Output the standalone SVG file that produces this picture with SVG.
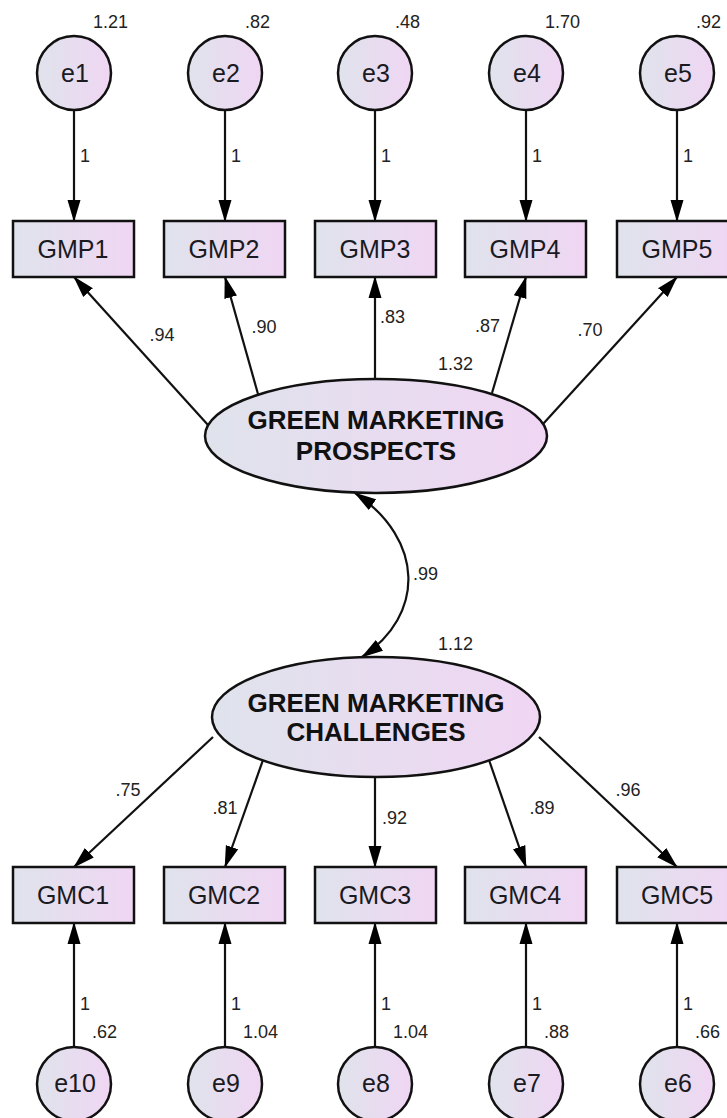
<svg xmlns="http://www.w3.org/2000/svg" width="727" height="1118" viewBox="0 0 727 1118">
<defs>
<linearGradient id="fillg" x1="0" y1="0" x2="1" y2="0">
<stop offset="0" stop-color="#dfe3ec"/>
<stop offset="1" stop-color="#f0d6f3"/>
</linearGradient>
<marker id="ah" markerUnits="userSpaceOnUse" markerWidth="22" markerHeight="14" refX="21" refY="6.5" orient="auto-start-reverse" viewBox="0 0 22 13">
<path d="M0,0 L22,6.5 L0,13 z" fill="#000"/>
</marker>
</defs>
<style>
.nd{fill:url(#fillg);stroke:#111;stroke-width:2.5}
.lb{font-family:"Liberation Sans",Arial,sans-serif;font-size:25px;fill:#1a1a22;text-anchor:middle}
.lt{font-family:"Liberation Sans",Arial,sans-serif;font-size:26px;font-weight:bold;fill:#111;text-anchor:middle}
.nm{font-family:"Liberation Sans",Arial,sans-serif;font-size:18px;fill:#222}
.c{text-anchor:middle}
.cn{stroke:#111;stroke-width:2.2;fill:none;marker-end:url(#ah)}
</style>
<g id="connectors">
<line class="cn" x1="74" y1="110" x2="74" y2="221"/>
<line class="cn" x1="225" y1="110" x2="225" y2="221"/>
<line class="cn" x1="375" y1="110" x2="375" y2="221"/>
<line class="cn" x1="526" y1="110" x2="526" y2="221"/>
<line class="cn" x1="677" y1="110" x2="677" y2="221"/>
<line class="cn" x1="208" y1="425" x2="74" y2="277"/>
<line class="cn" x1="258" y1="394" x2="225" y2="277"/>
<line class="cn" x1="375" y1="379" x2="375" y2="277"/>
<line class="cn" x1="492" y1="393" x2="526" y2="277"/>
<line class="cn" x1="543" y1="424" x2="677" y2="277"/>
<path class="cn" d="M355,493 C425,540 425,615 362,657" style="marker-start:url(#ah)"/>
<line class="cn" x1="213" y1="737" x2="74" y2="867"/>
<line class="cn" x1="263" y1="760" x2="225" y2="867"/>
<line class="cn" x1="375" y1="777" x2="375" y2="867"/>
<line class="cn" x1="489" y1="760" x2="526" y2="867"/>
<line class="cn" x1="539" y1="737" x2="677" y2="867"/>
<line class="cn" x1="74" y1="1047" x2="74" y2="923"/>
<line class="cn" x1="225" y1="1047" x2="225" y2="923"/>
<line class="cn" x1="375" y1="1047" x2="375" y2="923"/>
<line class="cn" x1="526" y1="1047" x2="526" y2="923"/>
<line class="cn" x1="677" y1="1047" x2="677" y2="923"/>
</g>
<g id="labels">
<text class="nm" x="80" y="162">1</text>
<text class="nm" x="231" y="162">1</text>
<text class="nm" x="381" y="162">1</text>
<text class="nm" x="532" y="162">1</text>
<text class="nm" x="683" y="162">1</text>
<text class="nm c" x="162" y="341">.94</text>
<text class="nm c" x="264" y="333">.90</text>
<text class="nm" x="380" y="323">.83</text>
<text class="nm" x="475" y="332">.87</text>
<text class="nm c" x="590" y="336">.70</text>
<text class="nm" x="438" y="370">1.32</text>
<text class="nm" x="413" y="580">.99</text>
<text class="nm" x="438" y="650">1.12</text>
<text class="nm c" x="128" y="796">.75</text>
<text class="nm c" x="225" y="814">.81</text>
<text class="nm" x="382" y="824">.92</text>
<text class="nm c" x="542" y="814">.89</text>
<text class="nm c" x="628" y="796">.96</text>
<text class="nm" x="80" y="1010">1</text>
<text class="nm" x="231" y="1010">1</text>
<text class="nm" x="381" y="1010">1</text>
<text class="nm" x="532" y="1010">1</text>
<text class="nm" x="683" y="1010">1</text>
<text class="nm" x="92" y="1038">.62</text>
<text class="nm" x="243" y="1038">1.04</text>
<text class="nm" x="393" y="1038">1.04</text>
<text class="nm" x="544" y="1038">.88</text>
<text class="nm" x="695" y="1038">.66</text>
<text class="nm" x="93" y="28">1.21</text>
<text class="nm" x="245" y="28">.82</text>
<text class="nm" x="395" y="28">.48</text>
<text class="nm" x="545" y="28">1.70</text>
<text class="nm" x="696" y="28">.92</text>
</g>
<g id="e1"><circle class="nd" cx="74" cy="73" r="37"/><text class="lb" x="75" y="82">e1</text></g>
<g id="e2"><circle class="nd" cx="225" cy="73" r="37"/><text class="lb" x="226" y="82">e2</text></g>
<g id="e3"><circle class="nd" cx="375" cy="73" r="37"/><text class="lb" x="376" y="82">e3</text></g>
<g id="e4"><circle class="nd" cx="526" cy="73" r="37"/><text class="lb" x="527" y="82">e4</text></g>
<g id="e5"><circle class="nd" cx="677" cy="73" r="37"/><text class="lb" x="678" y="82">e5</text></g>
<g id="GMP1"><rect class="nd" x="13" y="221" width="121" height="56"/><text class="lb" x="73" y="258">GMP1</text></g>
<g id="GMP2"><rect class="nd" x="164" y="221" width="121" height="56"/><text class="lb" x="224" y="258">GMP2</text></g>
<g id="GMP3"><rect class="nd" x="315" y="221" width="121" height="56"/><text class="lb" x="375" y="258">GMP3</text></g>
<g id="GMP4"><rect class="nd" x="465" y="221" width="121" height="56"/><text class="lb" x="525" y="258">GMP4</text></g>
<g id="GMP5"><rect class="nd" x="617" y="221" width="121" height="56"/><text class="lb" x="677" y="258">GMP5</text></g>
<g id="GMP"><ellipse class="nd" cx="376" cy="436" rx="171" ry="57"/><text class="lt" x="376" y="429">GREEN MARKETING</text><text class="lt" x="376" y="460">PROSPECTS</text></g>
<g id="GMC"><ellipse class="nd" cx="376" cy="717" rx="164" ry="60"/><text class="lt" x="376" y="712">GREEN MARKETING</text><text class="lt" x="376" y="741">CHALLENGES</text></g>
<g id="GMC1"><rect class="nd" x="13" y="867" width="121" height="56"/><text class="lb" x="73" y="904">GMC1</text></g>
<g id="GMC2"><rect class="nd" x="164" y="867" width="121" height="56"/><text class="lb" x="224" y="904">GMC2</text></g>
<g id="GMC3"><rect class="nd" x="315" y="867" width="121" height="56"/><text class="lb" x="375" y="904">GMC3</text></g>
<g id="GMC4"><rect class="nd" x="465" y="867" width="121" height="56"/><text class="lb" x="525" y="904">GMC4</text></g>
<g id="GMC5"><rect class="nd" x="617" y="867" width="121" height="56"/><text class="lb" x="677" y="904">GMC5</text></g>
<g id="e10"><circle class="nd" cx="74" cy="1084" r="37"/><text class="lb" x="75" y="1092">e10</text></g>
<g id="e9"><circle class="nd" cx="225" cy="1084" r="37"/><text class="lb" x="226" y="1092">e9</text></g>
<g id="e8"><circle class="nd" cx="375" cy="1084" r="37"/><text class="lb" x="376" y="1092">e8</text></g>
<g id="e7"><circle class="nd" cx="526" cy="1084" r="37"/><text class="lb" x="527" y="1092">e7</text></g>
<g id="e6"><circle class="nd" cx="677" cy="1084" r="37"/><text class="lb" x="678" y="1092">e6</text></g>
</svg>
